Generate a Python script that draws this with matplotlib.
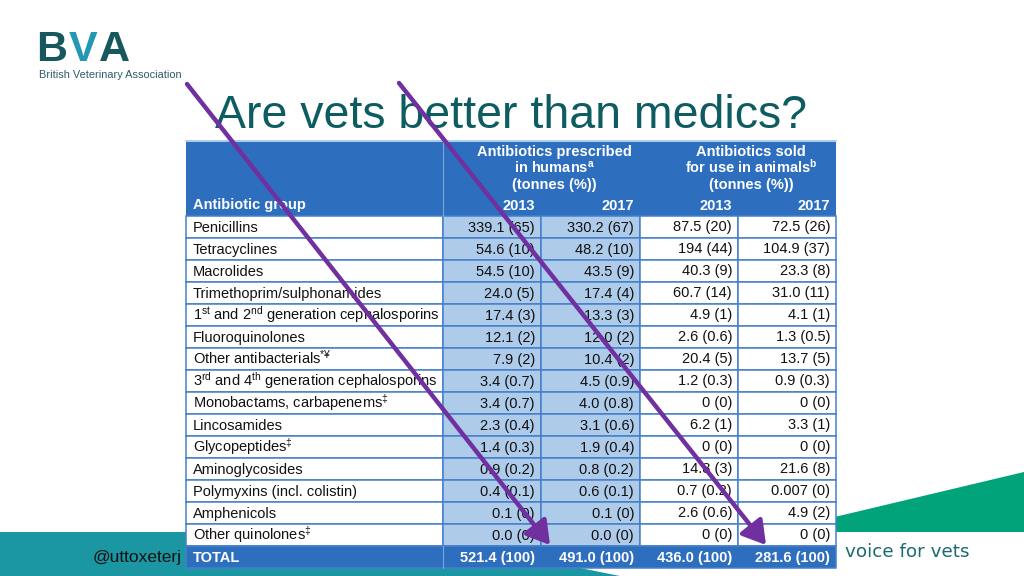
import matplotlib.pyplot as plt
from matplotlib.patches import Rectangle, Polygon

# table data
groups = ["Penicillins", "Tetracyclines", "Macrolides", "Trimethoprim/sulphonamides",
          r"1$^{\mathregular{st}}$ and 2$^{\mathregular{nd}}$ generation cephalosporins",
          "Fluoroquinolones", r"Other antibacterials$^{\mathregular{*¥}}$",
          r"3$^{\mathregular{rd}}$ and 4$^{\mathregular{th}}$ generation cephalosporins",
          r"Monobactams, carbapenems$^{\ddag}$", "Lincosamides", r"Glycopeptides$^{\ddag}$",
          "Aminoglycosides", "Polymyxins (incl. colistin)", "Amphenicols", r"Other quinolones$^{\ddag}$"]
human_2013 = ["339.1 (65)", "54.6 (10)", "54.5 (10)", "24.0 (5)", "17.4 (3)", "12.1 (2)", "7.9 (2)",
              "3.4 (0.7)", "3.4 (0.7)", "2.3 (0.4)", "1.4 (0.3)", "0.9 (0.2)", "0.4 (0.1)", "0.1 (0)", "0.0 (0)"]
human_2017 = ["330.2 (67)", "48.2 (10)", "43.5 (9)", "17.4 (4)", "13.3 (3)", "12.0 (2)", "10.4 (2)",
              "4.5 (0.9)", "4.0 (0.8)", "3.1 (0.6)", "1.9 (0.4)", "0.8 (0.2)", "0.6 (0.1)", "0.1 (0)", "0.0 (0)"]
animal_2013 = ["87.5 (20)", "194 (44)", "40.3 (9)", "60.7 (14)", "4.9 (1)", "2.6 (0.6)", "20.4 (5)",
               "1.2 (0.3)", "0 (0)", "6.2 (1)", "0 (0)", "14.8 (3)", "0.7 (0.2)", "2.6 (0.6)", "0 (0)"]
animal_2017 = ["72.5 (26)", "104.9 (37)", "23.3 (8)", "31.0 (11)", "4.1 (1)", "1.3 (0.5)", "13.7 (5)",
               "0.9 (0.3)", "0 (0)", "3.3 (1)", "0 (0)", "21.6 (8)", "0.007 (0)", "4.9 (2)", "0 (0)"]
totals = ["521.4 (100)", "491.0 (100)", "436.0 (100)", "281.6 (100)"]
years = ["2013", "2017", "2013", "2017"]
group_heads = [["Antibiotics prescribed", r"in humans$^{\mathregular{a}}$", "(tonnes (%))"],
               ["Antibiotics sold", r"for use in animals$^{\mathregular{b}}$", "(tonnes (%))"]]

# colours
HEAD_BLUE = "#2E6EBE"
GRID_BLUE = "#4680CA"
LIGHT_BLUE = "#AECBEA"
TEAL_DARK = "#0D5C62"
PURPLE = "#7030A0"

plt.rcParams["font.family"] = ["Liberation Sans", "DejaVu Sans"]
plt.rcParams["mathtext.fontset"] = "custom"
plt.rcParams["mathtext.rm"] = "Liberation Sans"
plt.rcParams["mathtext.it"] = "Liberation Sans:italic"
plt.rcParams["mathtext.bf"] = "Liberation Sans:bold"

fig = plt.figure(figsize=(10.24, 5.76), dpi=100)
ax = fig.add_axes([0, 0, 1, 1])
ax.set_xlim(0, 1024)
ax.set_ylim(576, 0)
ax.axis("off")

# slide decoration (footer bands)
ax.add_patch(Polygon([(0, 532), (400, 532), (620, 576), (0, 576)], closed=True, fc="#1A97A2", ec="none", zorder=0))
ax.add_patch(Polygon([(700, 532), (700, 549), (1024, 472), (1024, 532)], closed=True, fc="#00A37A", ec="none", zorder=0))
ax.text(93, 562, "@uttoxeterj", fontsize=12.5, color="#111111", zorder=1)
ax.text(845, 557, "voice for vets", fontsize=13.2, family="DejaVu Sans", color="#1C6A70", zorder=1)

# logo
for letter, xc, col in [("B", 52, "#17575E"), ("V", 83, "#2397B3"), ("A", 114, "#17575E")]:
  ax.text(xc, 61, letter, fontsize=31, weight="bold", color=col, ha="center", va="baseline")
ax.text(39, 78, "British Veterinary Association", fontsize=7.9, color="#2D5D68", va="baseline")

# title
ax.text(511, 128, "Are vets better than medics?", fontsize=33.5, color=TEAL_DARK, ha="center", va="baseline")

# table geometry
col_x = [186, 443, 541, 640, 738, 836]
head_top = 142
body_top = 216
row_h = 22
n = len(groups)
total_top = body_top + n * row_h

# header block
ax.add_patch(Rectangle((col_x[0], head_top), col_x[-1] - col_x[0], body_top - head_top, fc=HEAD_BLUE, ec="none", zorder=2))
ax.plot([col_x[0], col_x[-1]], [head_top - 1, head_top - 1], color="#9DC3E6", lw=1.2, zorder=3)
ax.plot([col_x[1], col_x[1]], [head_top, body_top], color="#7FA6DC", lw=0.8, zorder=3)
ax.text(col_x[0] + 7, 209, "Antibiotic group", fontsize=10.5, weight="bold", color="white", zorder=4)
for g, lines in enumerate(group_heads):
  xc = (col_x[1 + 2 * g] + col_x[3 + 2 * g]) / 2 + 13
  for k, line in enumerate(lines):
    ax.text(xc, 156 + k * 16.5, line, fontsize=10.5, weight="bold", color="white", ha="center", zorder=4)
for j, y in enumerate(years):
  ax.text(col_x[j + 2] - 6, 210, y, fontsize=10.5, weight="bold", color="white", ha="right", zorder=4)

# body rows
cols = [human_2013, human_2017, animal_2013, animal_2017]
for i in range(n):
  top = body_top + i * row_h
  for j in range(5):
    fill = LIGHT_BLUE if j in (1, 2) else "white"
    ax.add_patch(Rectangle((col_x[j], top), col_x[j + 1] - col_x[j], row_h, fc=fill, ec=GRID_BLUE, lw=1.1, zorder=2))
  ax.text(col_x[0] + 7, top + 16, groups[i], fontsize=10.5, color="#111111", zorder=4)
  for j, c in enumerate(cols):
    dy = 16 if j < 2 else 15
    ax.text(col_x[j + 2] - 6, top + dy, c[i], fontsize=10.5, color="#111111", ha="right", zorder=4)

# total row
ax.add_patch(Rectangle((col_x[0], total_top), col_x[-1] - col_x[0], row_h, fc=HEAD_BLUE, ec=GRID_BLUE, lw=1.1, zorder=2))
ax.plot([col_x[1], col_x[1]], [total_top, total_top + row_h], color="#7FA6DC", lw=0.8, zorder=3)
ax.text(col_x[0] + 7, total_top + 16, "TOTAL", fontsize=10.5, weight="bold", color="white", zorder=4)
for j, t in enumerate(totals):
  ax.text(col_x[j + 2] - 6, total_top + 16, t, fontsize=10.5, weight="bold", color="white", ha="right", zorder=4)

# purple arrows drawn over the table
for start, tip in [((187, 84), (550, 545)), ((399, 83), (766, 545))]:
  ax.annotate("", xy=tip, xytext=start, zorder=6,
              arrowprops=dict(arrowstyle="-|>,head_length=0.5,head_width=0.3", color=PURPLE, lw=3.2,
                              mutation_scale=28, shrinkA=0, shrinkB=0))

fig.savefig("out.png", dpi=100)
